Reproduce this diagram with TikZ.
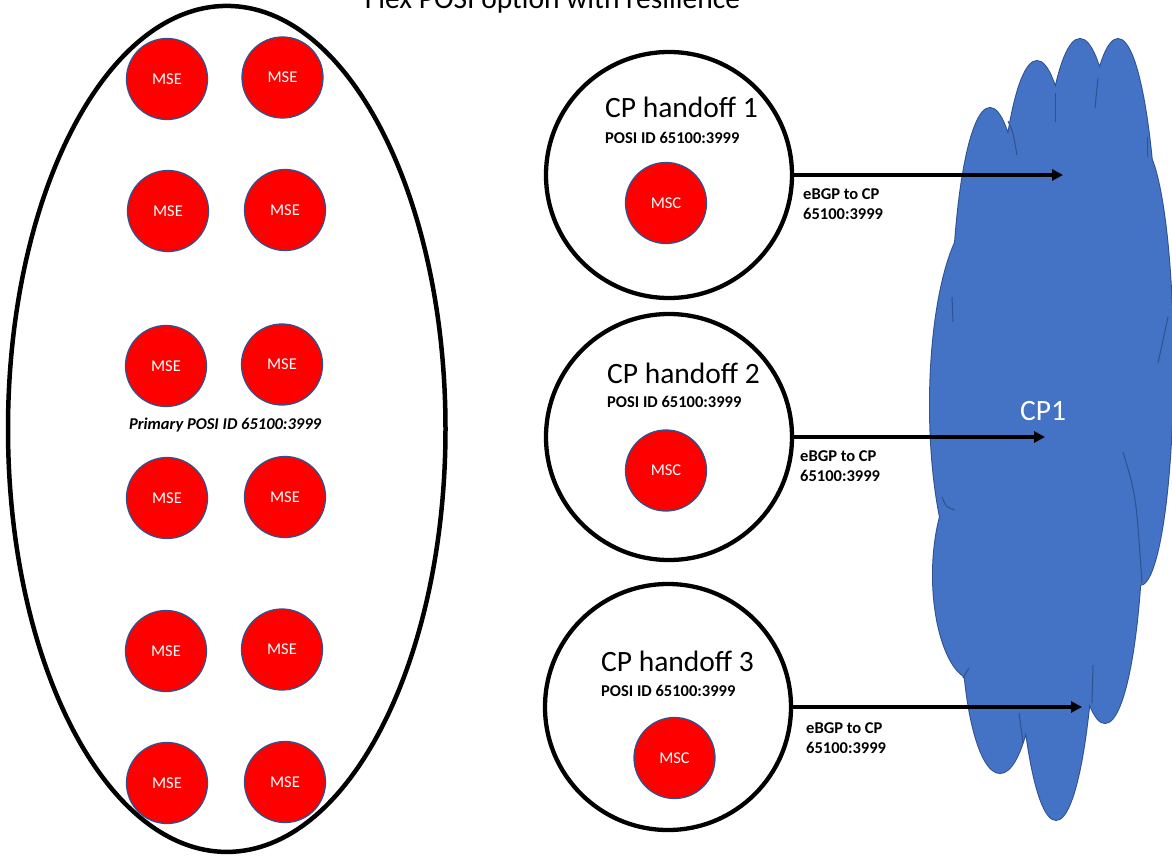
\documentclass[tikz,border=0pt]{standalone}
\usepackage{fontspec}
\setmainfont{Carlito}
\usetikzlibrary{arrows.meta}

\definecolor{rossoapparato}{RGB}{255,0,0}
\definecolor{bluprofilo}{RGB}{47,82,143}
\definecolor{blunuvola}{RGB}{68,114,196}

\begin{document}
\begin{tikzpicture}[
  x=1pt, y=-1pt,
  contorno/.style={draw=black, line width=4.5pt},
  anello/.style={circle, draw=black, line width=4.3pt, minimum size=246pt, inner sep=0pt},
  apparato/.style={circle, draw=bluprofilo, line width=1.3pt, fill=rossoapparato, minimum size=81pt,
    inner sep=0pt, text=white, font=\fontsize{16.5}{20}\selectfont},
  titolo/.style={inner sep=0pt, font=\fontsize{29.5}{35}\selectfont},
  etichetta/.style={inner sep=0pt, font=\fontsize{16.5}{20}\selectfont\bfseries},
  collegamento/.style={draw=black, line width=3.2pt, -{Triangle[length=11pt, width=11pt]}},
  nuvolabordo/.style={draw=bluprofilo, line width=2pt, fill=blunuvola},
  nuvolapieno/.style={fill=blunuvola},
  nuvolapiega/.style={draw=bluprofilo, line width=1pt}
]
\useasboundingbox (0,0) rectangle (1172,856);

%--------------------------------------------------------------
% Titolo (tagliato dal bordo superiore)
%--------------------------------------------------------------
\node[titolo, anchor=base] (titolo) at (552.5,9) {Flex POSI option with resilience};

%--------------------------------------------------------------
% CP1: nuvola del fornitore (unione di lobi ellittici)
%--------------------------------------------------------------
\path[nuvolabordo]
  (990,330) ellipse [x radius=38, y radius=222]
  (1037,300) ellipse [x radius=40, y radius=239]
  (1080,270) ellipse [x radius=40, y radius=231]
  (1118,300) ellipse [x radius=40, y radius=261]
  (1140,365) ellipse [x radius=33, y radius=220]
  (982,405) ellipse [x radius=52, y radius=190]
  (975,575) ellipse [x radius=42, y radius=105]
  (1000,620) ellipse [x radius=38, y radius=153]
  (1056,560) ellipse [x radius=40, y radius=260]
  (1105,500) ellipse [x radius=38, y radius=223];
\path[nuvolapieno]
  (990,330) ellipse [x radius=38, y radius=222]
  (1037,300) ellipse [x radius=40, y radius=239]
  (1080,270) ellipse [x radius=40, y radius=231]
  (1118,300) ellipse [x radius=40, y radius=261]
  (1140,365) ellipse [x radius=33, y radius=220]
  (982,405) ellipse [x radius=52, y radius=190]
  (975,575) ellipse [x radius=42, y radius=105]
  (1000,620) ellipse [x radius=38, y radius=153]
  (1056,560) ellipse [x radius=40, y radius=260]
  (1105,500) ellipse [x radius=38, y radius=223];
% pieghe interne
\draw[nuvolapiega] (1008,121) .. controls (1013,132) .. (1017,155);
\draw[nuvolapiega] (1055,93) -- (1055,122);
\draw[nuvolapiega] (1098,78) -- (1095,108);
\draw[nuvolapiega] (1147,137) -- (1147,157);
\draw[nuvolapiega] (952,297) -- (953,322);
\draw[nuvolapiega] (1168,317) -- (1158,363);
\draw[nuvolapiega] (1123,452) .. controls (1136,495) .. (1142,583);
\draw[nuvolapiega] (942,497) .. controls (946,507) .. (955,510);
\draw[nuvolapiega] (963,678) -- (969,668);
\draw[nuvolapiega] (1019,713) -- (1023,743);
\draw[nuvolapiega] (1093,665) -- (1092,703);
\node[titolo, text=white, anchor=base] (cp1) at (1043,420) {CP1};

%--------------------------------------------------------------
% Gruppo primario: ellisse con i dodici MSE
%--------------------------------------------------------------
\draw[contorno] (226.75,428.9) ellipse [x radius=218.75, y radius=423];
\node[apparato] (mse1)  at (167,79)    {MSE};
\node[apparato] (mse2)  at (282.5,77.5) {MSE};
\node[apparato] (mse3)  at (168,211)   {MSE};
\node[apparato] (mse4)  at (285,210)   {MSE};
\node[apparato] (mse5)  at (166,366)   {MSE};
\node[apparato] (mse6)  at (282,364.5) {MSE};
\node[apparato] (mse7)  at (167,498)   {MSE};
\node[apparato] (mse8)  at (285,497)   {MSE};
\node[apparato] (mse9)  at (166,651)   {MSE};
\node[apparato] (mse10) at (282,649.5) {MSE};
\node[apparato] (mse11) at (167,783)   {MSE};
\node[apparato] (mse12) at (285,782)   {MSE};
\node[etichetta, font=\fontsize{16.5}{20}\selectfont\bfseries\itshape, anchor=base] (primario) at (225,429)
  {Primary POSI ID 65100:3999};

%--------------------------------------------------------------
% CP handoff 1
%--------------------------------------------------------------
\node[anello] (h1) at (669,175) {};
\node[titolo, anchor=base west] (h1t) at (605,118) {CP handoff 1};
\node[etichetta, anchor=base west] (h1p) at (605,143) {POSI ID 65100:3999};
\node[apparato] (msc1) at (666,203) {MSC};
\coordinate (p1) at (1063,175);
\draw[collegamento] (h1.east) -- (p1);
\node[etichetta, anchor=base west] (e1a) at (803,199) {eBGP to CP};
\node[etichetta, anchor=base west] (e1b) at (803,219) {65100:3999};

%--------------------------------------------------------------
% CP handoff 2
%--------------------------------------------------------------
\node[anello] (h2) at (669,437) {};
\node[titolo, anchor=base west] (h2t) at (607,383) {CP handoff 2};
\node[etichetta, anchor=base west] (h2p) at (607,407) {POSI ID 65100:3999};
\node[apparato] (msc2) at (666,470.5) {MSC};
\coordinate (p2) at (1045,437);
\draw[collegamento] (h2.east) -- (p2);
\node[etichetta, anchor=base west] (e2a) at (800,461) {eBGP to CP};
\node[etichetta, anchor=base west] (e2b) at (800,481) {65100:3999};

%--------------------------------------------------------------
% CP handoff 3
%--------------------------------------------------------------
\node[anello] (h3) at (668,707) {};
\node[titolo, anchor=base west] (h3t) at (601,671) {CP handoff 3};
\node[etichetta, anchor=base west] (h3p) at (601,696) {POSI ID 65100:3999};
\node[apparato] (msc3) at (674.5,758) {MSC};
\coordinate (p3) at (1082,707);
\draw[collegamento] (h3.east) -- (p3);
\node[etichetta, anchor=base west] (e3a) at (806,733) {eBGP to CP};
\node[etichetta, anchor=base west] (e3b) at (806,753) {65100:3999};

\end{tikzpicture}
\end{document}
